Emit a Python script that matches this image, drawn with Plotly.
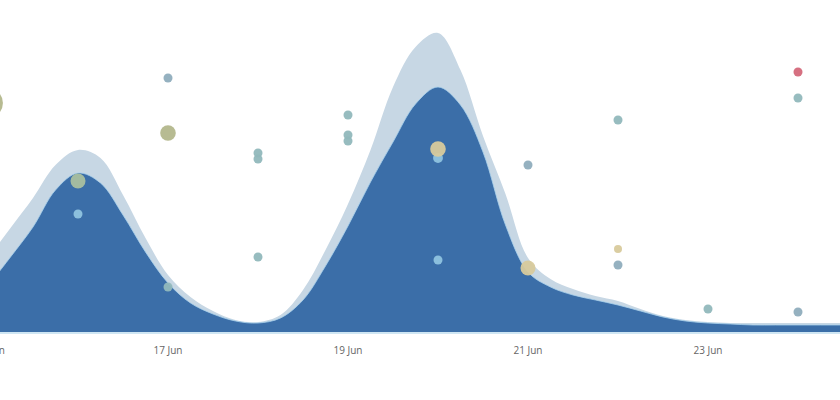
import numpy as np
import pandas as pd
import plotly.graph_objects as go

# area series, sampled every 6 hours from 15 Jun 00:00
area_times = pd.date_range("2019-06-15 00:00", periods=40, freq="6h")
front_values = [46, 75, 105, 142, 159, 149, 117, 80, 49, 29,
                18, 11, 9, 14, 32, 66, 106, 150, 190, 228,
                245, 227, 180, 107, 60, 45, 37, 32, 27, 21,
                15, 11, 9, 8, 7, 7, 7, 7, 7, 7]
total_values = [74, 104, 134, 167, 182, 174, 137, 94, 57, 35,
                21, 12, 10, 17, 42, 82, 128, 182, 245, 285,
                299, 262, 196, 138, 74, 53, 43, 36, 31, 23,
                16, 12, 10, 9, 9, 9, 9, 9, 9, 9]

# scattered events
dot_times = ["2019-06-15", "2019-06-16", "2019-06-16", "2019-06-17", "2019-06-17",
             "2019-06-17", "2019-06-18", "2019-06-18", "2019-06-18", "2019-06-19",
             "2019-06-19", "2019-06-19", "2019-06-20", "2019-06-20", "2019-06-20",
             "2019-06-21", "2019-06-21", "2019-06-22", "2019-06-22", "2019-06-22",
             "2019-06-23", "2019-06-24", "2019-06-24", "2019-06-24"]
dot_values = [229, 151, 118, 254, 199, 45, 179, 173, 75, 217,
              197, 191, 174, 183, 72, 167, 64, 212, 83, 67,
              23, 260, 234, 20]
dot_weight = [11, 2.8, 1, 1, 3, 1, 1, 1, 1, 1,
              1, 1, 1.2, 3, 1, 1, 2.8, 1, 0.8, 1,
              1, 1, 1, 1]
dot_kind = ["moss", "sage", "sky", "slate", "moss", "teal", "teal", "teal", "teal", "teal",
            "teal", "teal", "sky", "sand", "sky", "slate", "sand", "teal", "sand", "slate",
            "teal", "rose", "teal", "slate"]

KIND_COLORS = {
    "moss": "#b3b78c",
    "sage": "#a9bf9f",
    "sky": "#8fc3df",
    "slate": "#8fadbd",
    "teal": "#91b8bc",
    "sand": "#d8ca9c",
    "rose": "#d4687a",
}

DARK = "#3b6ea8"
LIGHT = "#c7d7e4"
TICK_FONT = dict(family="Open Sans, sans-serif", size=10, color="#666666")

fig = go.Figure()
fig.add_trace(go.Scatter(
    x=area_times, y=total_values,
    mode="lines", line=dict(width=0, shape="spline", smoothing=1.0, color=LIGHT),
    fill="tozeroy", fillcolor=LIGHT, hoverinfo="skip", showlegend=False,
))
fig.add_trace(go.Scatter(
    x=area_times, y=front_values,
    mode="lines", line=dict(width=0.8, shape="spline", smoothing=1.0, color="#a9d2ec"),
    fill="tozeroy", fillcolor=DARK, hoverinfo="skip", showlegend=False,
))
fig.add_trace(go.Scatter(
    x=pd.to_datetime(dot_times), y=dot_values,
    mode="markers",
    marker=dict(
        size=[9 * np.sqrt(w) for w in dot_weight],
        color=[KIND_COLORS[k] for k in dot_kind],
        opacity=0.95,
        line=dict(width=0),
    ),
    showlegend=False,
))

fig.update_layout(
    width=840,
    height=400,
    margin=dict(l=0, r=0, t=0, b=68),
    paper_bgcolor="white",
    plot_bgcolor="white",
    font=TICK_FONT,
    showlegend=False,
)
fig.update_xaxes(
    type="date",
    range=["2019-06-15 03:12", "2019-06-24 11:12"],
    tick0="2019-06-15",
    dtick=2 * 86400000,
    tickformat="%d %b",
    showgrid=False,
    zeroline=False,
    showline=True,
    linecolor="#cfe6f3",
    linewidth=2,
    ticks="",
    ticklabelstandoff=8,
)
fig.update_yaxes(
    range=[0, 332],
    visible=False,
    showgrid=False,
    zeroline=False,
)

# first tick sits just left of the window, plotly drops it, so draw the cut-off label by hand
fig.add_annotation(
    text="15 Jun", xref="paper", yref="paper",
    x=-10 / 840, y=0, xanchor="center", yanchor="middle", yshift=-18,
    showarrow=False, font=TICK_FONT,
)

# page body has a default margin; drop it so the chart sits flush in the window
fig.write_html(
    "out.html",
    config={"displayModeBar": False},
    post_script="document.body.style.margin='0';",
)
